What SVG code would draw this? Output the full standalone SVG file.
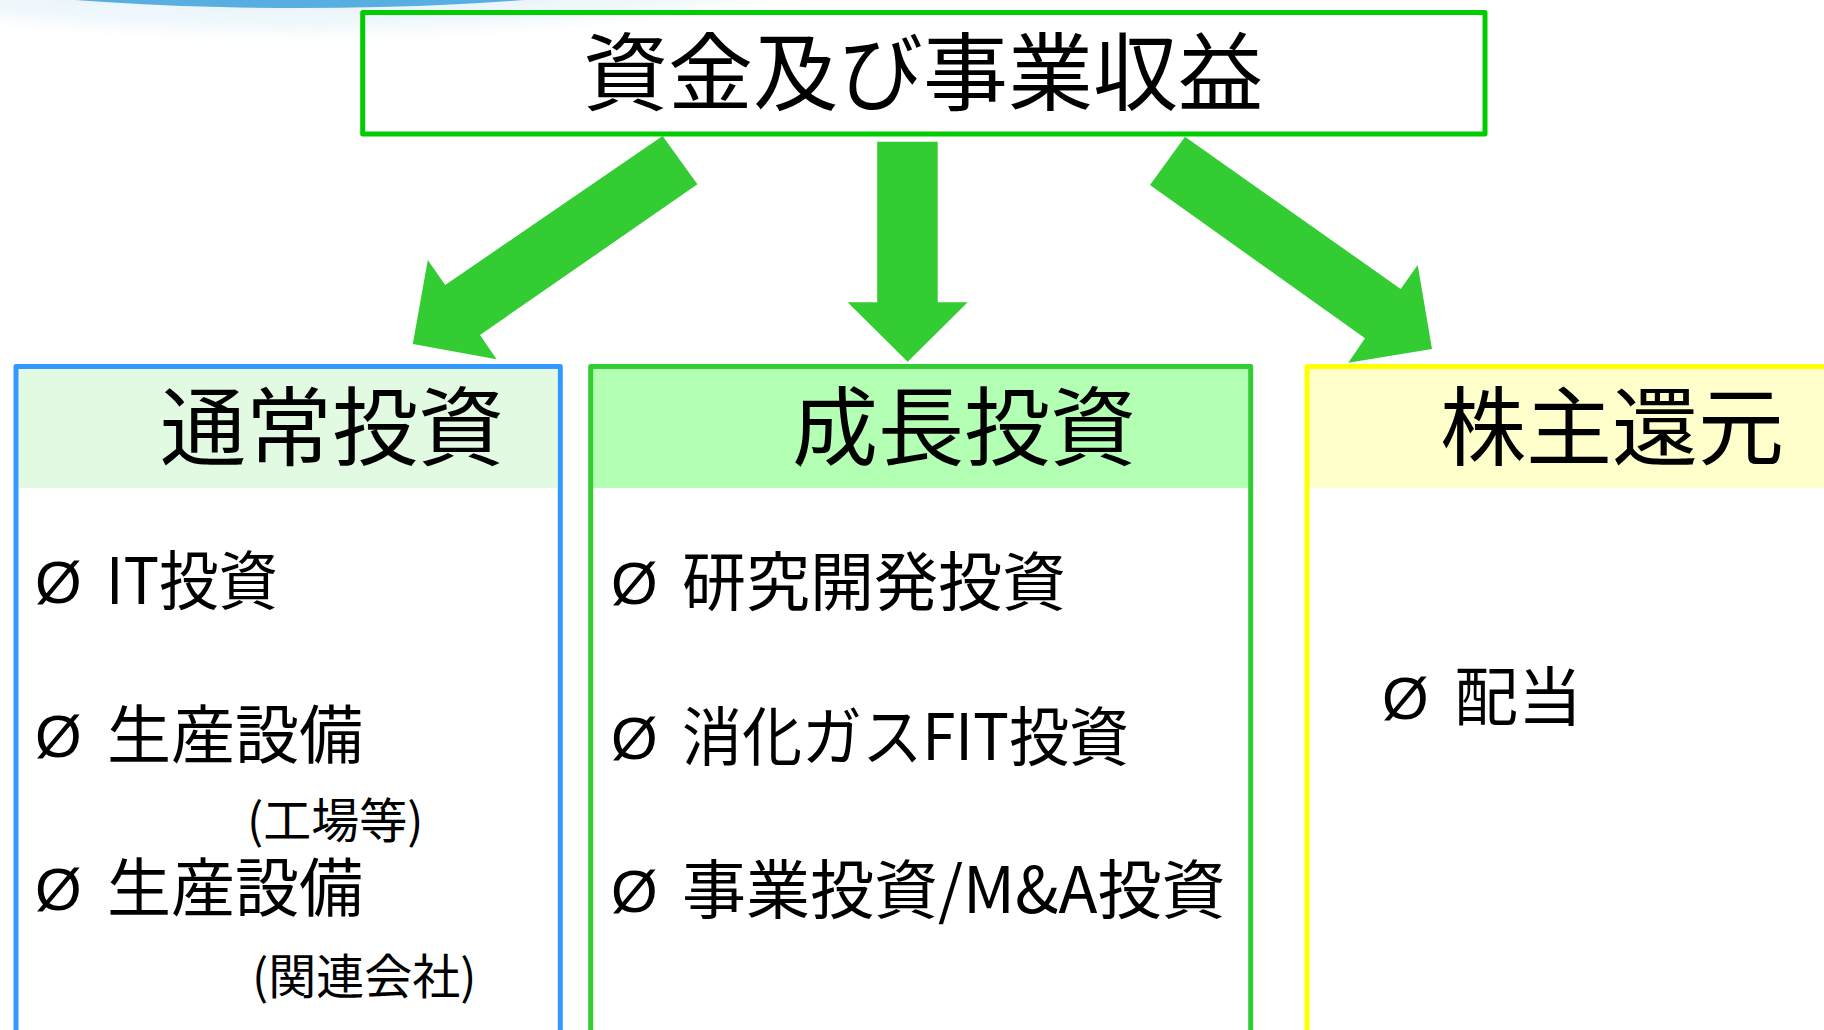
<svg xmlns="http://www.w3.org/2000/svg" width="1824" height="1030" viewBox="0 0 1824 1030">
  <defs>
    <filter id="glow" x="-20%" y="-100%" width="140%" height="300%">
      <feGaussianBlur stdDeviation="8"/>
    </filter>
    <style>
      text { font-family: "Noto Sans CJK JP", "Noto Sans", sans-serif; fill: #000; }
      .title { font-size: 85px; }
      .head { font-size: 86px; }
      .item { font-size: 64px; }
      .bullet { font-family: "Liberation Sans", Arial, sans-serif; font-size: 60px; }
      .sub { font-size: 48px; }
      .arrow { fill: #33CC33; }
      .frame { fill: none; stroke-width: 5; stroke-linejoin: round; }
    </style>
  </defs>
  <rect width="1824" height="1030" fill="#FFFFFF"/>
  <!-- background decoration -->
  <ellipse cx="300" cy="-180" rx="820" ry="210" fill="#E8F4FA" filter="url(#glow)" opacity="0.8"/>
  <ellipse cx="300" cy="-192" rx="804" ry="200" fill="#58AEE0"/>

  <g id="connectors">
    <polygon class="arrow" points="662.6,136 697.4,184.3 480,335 496.6,359.3 412.8,344 427.8,260 445.2,285"/>
    <polygon class="arrow" points="877.2,141.7 937.7,141.7 937.7,302.3 967.7,302.3 907.7,361.7 847.6,302.3 877.2,302.3"/>
    <polygon class="arrow" points="1185,136.7 1400.7,289 1417.7,265 1432,349 1348.3,362.7 1365,338.3 1150,185"/>
  </g>

  <g id="source">
    <rect x="362.7" y="12.5" width="1122.3" height="121.5" fill="#FFFFFF" stroke="#00CC00" class="frame"/>
    <text class="title" x="923" y="104" text-anchor="middle">資金及び事業収益</text>
  </g>

  <g id="normal-investment">
    <rect x="18.5" y="369" width="539" height="119" fill="#E1FAE1"/>
    <rect x="16" y="366.6" width="544.3" height="700" class="frame" stroke="#3399FF"/>
    <text class="head" x="160" y="459">通常投資</text>
    <text class="bullet" x="35" y="603">Ø</text>
    <text class="item" x="106" y="604" textLength="172" lengthAdjust="spacingAndGlyphs">IT投資</text>
    <text class="bullet" x="35" y="757">Ø</text>
    <text class="item" x="107" y="758">生産設備</text>
    <text class="sub" x="247" y="838">(工場等)</text>
    <text class="bullet" x="35" y="910">Ø</text>
    <text class="item" x="107" y="911">生産設備</text>
    <text class="sub" x="252" y="994">(関連会社)</text>
  </g>

  <g id="growth-investment">
    <rect x="593" y="369" width="655.5" height="119" fill="#B3FFB3"/>
    <rect x="590.7" y="366.6" width="660" height="700" class="frame" stroke="#33CC33"/>
    <text class="head" x="792" y="459">成長投資</text>
    <text class="bullet" x="611" y="604">Ø</text>
    <text class="item" x="682" y="605">研究開発投資</text>
    <text class="bullet" x="611" y="759">Ø</text>
    <text class="item" x="682" y="760" textLength="447" lengthAdjust="spacingAndGlyphs">消化ガスFIT投資</text>
    <text class="bullet" x="611" y="912">Ø</text>
    <text class="item" x="682" y="913">事業投資/M&amp;A投資</text>
  </g>

  <g id="shareholder-return">
    <rect x="1309.5" y="369" width="540" height="119" fill="#FFFFCC"/>
    <rect x="1307" y="366.6" width="560" height="700" class="frame" stroke="#FFFF00"/>
    <text class="head" x="1440" y="459">株主還元</text>
    <text class="bullet" x="1382" y="719">Ø</text>
    <text class="item" x="1454" y="720">配当</text>
  </g>
</svg>
